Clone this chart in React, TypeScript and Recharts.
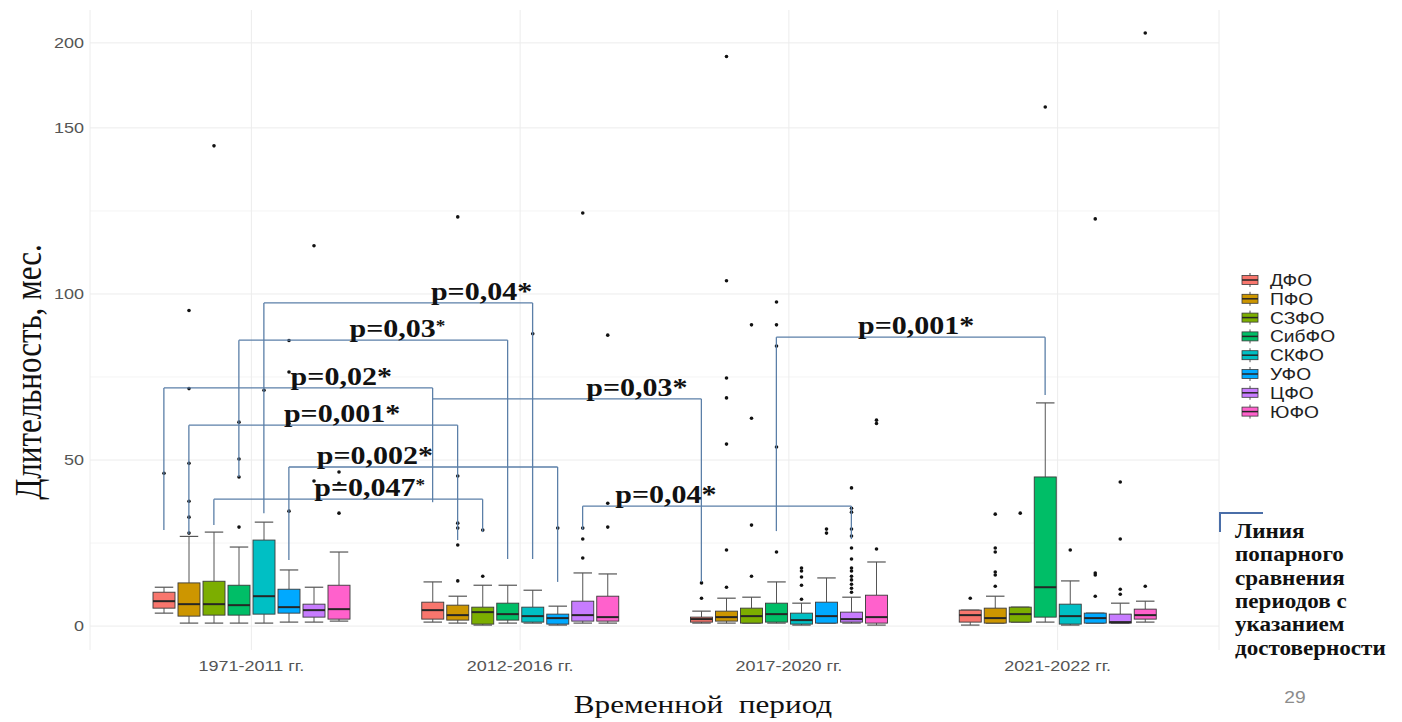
import React from 'react';
import {
  ComposedChart, Bar, XAxis, YAxis, CartesianGrid, ReferenceLine, ReferenceDot,
} from 'recharts';

// ============================================================================
// DATA
// ============================================================================

const periods = ['1971-2011 гг.', '2012-2016 гг.', '2017-2020 гг.', '2021-2022 гг.'];
const districts = ['ДФО', 'ПФО', 'СЗФО', 'СибФО', 'СКФО', 'УФО', 'ЦФО', 'ЮФО'];
const colors = ['#F8766D', '#CD9600', '#7CAE00', '#00BE67', '#00BFC4', '#00A9FF', '#C77CFF', '#FF61CC'];

// one row per period, one value per district (months)
const lowWhisker = [
  [3.9, 0.9, 0.9, 0.9, 0.9, 1.2, 1.2, 1.5],
  [1.2, 0.9, 0.3, 0.9, 0.9, 0.3, 0.9, 0.9],
  [0.9, 0.9, 0.9, 0.9, 0.3, 0.9, 0.9, 0.3],
  [0.3, 0.9, 1.2, 1.2, 0.3, 0.9, 0.9, 1.2],
];
const q1 = [
  [5.4, 3.0, 3.3, 3.3, 3.6, 3.9, 2.7, 2.1],
  [2.1, 1.8, 0.6, 1.8, 1.2, 0.6, 1.5, 1.5],
  [1.2, 1.5, 0.9, 1.2, 0.6, 0.9, 1.2, 0.9],
  [1.2, 0.9, 1.2, 2.7, 0.6, 0.9, 0.9, 2.1],
];
const median = [
  [7.5, 6.6, 6.6, 6.3, 9.0, 5.7, 4.8, 5.1],
  [4.8, 3.3, 4.2, 3.6, 3.0, 2.4, 3.3, 2.7],
  [2.1, 2.7, 3.0, 3.6, 1.8, 3.0, 2.1, 2.7],
  [3.3, 2.4, 3.6, 11.7, 3.0, 2.4, 1.2, 3.3],
];
const q3 = [
  [10.2, 13.0, 13.5, 12.3, 25.9, 11.1, 6.6, 12.3],
  [7.2, 6.3, 5.7, 6.9, 5.7, 3.6, 7.5, 9.0],
  [2.7, 4.5, 5.4, 6.9, 3.9, 7.2, 4.2, 9.3],
  [4.8, 5.4, 5.7, 44.9, 6.6, 3.9, 3.6, 5.1],
];
const highWhisker = [
  [11.7, 27.0, 28.3, 23.8, 31.3, 16.9, 11.7, 22.3],
  [13.3, 9.0, 12.3, 12.3, 10.8, 6.0, 16.0, 15.7],
  [4.5, 8.4, 8.7, 13.3, 6.9, 14.5, 8.7, 19.3],
  [4.8, 9.0, 5.7, 67.2, 13.6, 3.9, 6.9, 7.5],
];
const outliers = [
  [
    [46], [95, 71.5, 49, 37.6, 32.8, 28], [144.6], [61.4, 50.3, 44.9, 29.8],
    [71], [86, 76.5, 61, 34.6], [114.5, 43.7], [46.4, 43, 34],
  ],
  [
    [], [123.2, 45.2, 31, 29.5, 24.4, 13.6], [28.9, 15], [],
    [88], [29.5], [124.4, 29.5, 26.2, 20.5], [87.6, 37, 29.8],
  ],
  [
    [13, 8.4], [192, 104, 74.7, 68.7, 54.8, 22.9, 11.7], [90.7, 62.6, 30.4, 15],
    [97.6, 90.7, 84.3, 53.9, 22.3], [17.5, 16.6, 14.8, 12.3, 8.1], [29.2, 28],
    [41.6, 35.5, 34.3, 29.2, 27.1, 23.5, 20.2, 17.5, 16.6, 15, 13.9, 12.6, 11.4, 10.2],
    [62, 61, 23.2],
  ],
  [
    [8.4], [33.7, 23.5, 22.3, 16.3, 15.4, 12], [34], [162.3],
    [22.9], [122.6, 16, 15.4, 9.0], [43.4, 26.2, 11.1, 9.6], [205.8, 12],
  ],
];

// pairwise comparison brackets: same district, two periods
const brackets = [
  { p: 'p=0,04', smallStar: false, district: 4, from: 0, to: 1, top: 97.3, leftEnd: 34, rightEnd: 20.2, at: 0.81 },
  { p: 'p=0,03', smallStar: true, district: 3, from: 0, to: 1, top: 86.1, leftEnd: 44.9, rightEnd: 20.2, at: 0.59 },
  { p: 'p=0,02', smallStar: false, district: 0, from: 0, to: 1, top: 71.7, leftEnd: 28.9, rightEnd: 37.3, at: 0.66 },
  { p: 'p=0,03', smallStar: false, district: 0, from: 1, to: 2, top: 68.4, leftEnd: null, rightEnd: 13.3, at: 0.76 },
  { p: 'p=0,001', smallStar: false, district: 1, from: 0, to: 1, top: 60.5, leftEnd: 27.7, rightEnd: 25.9, at: 0.57 },
  { p: 'p=0,002', smallStar: false, district: 5, from: 0, to: 1, top: 47.9, leftEnd: 19.9, rightEnd: 13.3, at: 0.32 },
  { p: 'p=0,047', smallStar: true, district: 2, from: 0, to: 1, top: 38.2, leftEnd: 30.4, rightEnd: 28.3, at: 0.58 },
  { p: 'p=0,04', smallStar: false, district: 6, from: 1, to: 2, top: 36.1, leftEnd: 29, rightEnd: 26.2, at: 0.31 },
  { p: 'p=0,001', smallStar: false, district: 3, from: 2, to: 3, top: 87.0, leftEnd: 28.6, rightEnd: 69.6, at: 0.52 },
];

const yTicks = [0, 50, 100, 150, 200];
const yMinorTicks = [25, 75, 125];

// ============================================================================
// LAYOUT
// ============================================================================

const W = 1402;
const H = 722;
const MARGIN = { top: 10, right: 183, bottom: 0, left: 0 };
const Y_AXIS_W = 90;
const X_AXIS_H = 72;
const X_PAD = 27;
const BOX_W = 22;
const BOX_GAP = 3;
const BAND = (W - MARGIN.right - MARGIN.left - Y_AXIS_W - 2 * X_PAD) / periods.length;
const X_EXPAND = X_PAD / BAND + 0.5;

// the slide picture is stretched sideways, text included
const SX = 1.2;

const SANS = '"Liberation Sans", Arial, sans-serif';
const SERIF = '"Liberation Serif", "Times New Roman", serif';
const BRACKET = '#5b7fa8';

// the original axis squeezes everything above 150 months
const BREAK = 150;
const SQUEEZE = 0.512;
const tf = (v: number) => (v <= BREAK ? v : BREAK + (v - BREAK) * SQUEEZE);
const untf = (t: number) => (t <= BREAK ? t : BREAK + (t - BREAK) / SQUEEZE);

// dodge offset of a district's box inside its period band (in period units)
const dodge = (di: number) => {
  const group = districts.length * BOX_W + (districts.length - 1) * BOX_GAP;
  return (-group / 2 + BOX_W / 2 + di * (BOX_W + BOX_GAP)) / BAND;
};

const rows = periods.map((name, pi) => {
  const row: Record<string, any> = { name, idx: pi };
  districts.forEach((_, di) => {
    row[`w${di}`] = [tf(lowWhisker[pi][di]), tf(highWhisker[pi][di])];
  });
  return row;
});

// ============================================================================
// SHAPES
// ============================================================================

const BoxShape = (props: any) => {
  const { x, y, width, height, payload, di } = props;
  const pi = periods.indexOf(payload.name);
  const lo = tf(lowWhisker[pi][di]);
  const hi = tf(highWhisker[pi][di]);
  const top = Math.min(y, y + height);
  const k = Math.abs(height) / (hi - lo);
  const py = (v: number) => top + (hi - tf(v)) * k;
  const cx = x + width / 2;
  const cap = width * 0.42;
  const yq1 = py(q1[pi][di]);
  const yq3 = py(q3[pi][di]);
  const yHi = py(highWhisker[pi][di]);
  const yLo = py(lowWhisker[pi][di]);
  return (
    <g>
      <line x1={cx} x2={cx} y1={yHi} y2={yq3} stroke="#555" strokeWidth={1} />
      <line x1={cx} x2={cx} y1={yq1} y2={yLo} stroke="#555" strokeWidth={1} />
      <line x1={cx - cap} x2={cx + cap} y1={yHi} y2={yHi} stroke="#555" strokeWidth={1.2} />
      <line x1={cx - cap} x2={cx + cap} y1={yLo} y2={yLo} stroke="#555" strokeWidth={1.2} />
      <rect x={x} y={yq3} width={width} height={Math.max(yq1 - yq3, 0.5)} fill={colors[di]} stroke="#3a3a3a" strokeWidth={0.9} />
      <line x1={x} x2={x + width} y1={py(median[pi][di])} y2={py(median[pi][di])} stroke="#262626" strokeWidth={2} />
      {outliers[pi][di].map((v, i) => (
        <circle key={i} cx={cx} cy={py(v)} r={1.8} fill="#111" />
      ))}
    </g>
  );
};

// text stretched sideways around its anchor point
const Wide = ({ x, y, children, ...rest }: any) => (
  <g transform={`translate(${x},${y}) scale(${SX},1)`}>
    <text x={0} y={0} {...rest}>{children}</text>
  </g>
);

const XTick = (props: any) => (
  <Wide x={props.x} y={props.y} dy="0.71em" textAnchor="middle" fontFamily={SANS} fontSize={15} fill="#555">
    {props.payload.value}
  </Wide>
);

const YTick = (props: any) => (
  <Wide x={props.x} y={props.y} dy="0.355em" textAnchor="end" fontFamily={SANS} fontSize={15} fill="#555">
    {Math.round(untf(props.payload.value))}
  </Wide>
);

const PLabel = (props: any) => {
  const { cx, cy, text, smallStar } = props;
  return (
    <Wide x={cx} y={cy} textAnchor="middle" fontFamily={SERIF} fontWeight="bold" fontSize={25} fill="#111">
      {text}
      <tspan fontSize={smallStar ? 16 : 25} dy={smallStar ? -6 : 0}>*</tspan>
    </Wide>
  );
};

// ============================================================================
// LEGEND + ANNOTATIONS
// ============================================================================

const Legend = () => (
  <g>
    {districts.map((d, i) => {
      const y = 280 + i * 18.8;
      return (
        <g key={d}>
          <line x1={1250} x2={1250} y1={y - 7} y2={y + 7} stroke="#555" strokeWidth={1} />
          <rect x={1242} y={y - 4.5} width={16} height={9} fill={colors[i]} stroke="#3a3a3a" strokeWidth={0.8} />
          <line x1={1242} x2={1258} y1={y} y2={y} stroke="#262626" strokeWidth={1.5} />
          <Wide x={1270} y={y + 6} fontFamily={SANS} fontSize={16} fill="#222">{d}</Wide>
        </g>
      );
    })}
  </g>
);

const noteLines = ['Линия', 'попарного', 'сравнения', 'периодов с', 'указанием', 'достоверности'];

const Overlay = () => (
  <svg width={W} height={H} style={{ position: 'absolute', left: 0, top: 0, pointerEvents: 'none' }}>
    <g transform={`translate(41,372) scale(${SX},1) rotate(-90)`}>
      <text x={0} y={0} textAnchor="middle" fontFamily={SERIF} fontSize={31} fill="#111">
        Длительность, мес.
      </text>
    </g>
    <Wide x={703} y={713} textAnchor="middle" fontFamily={SERIF} fontSize={26} fill="#111" style={{ whiteSpace: 'pre' }}>
      {'Временной  период'}
    </Wide>
    <Legend />
    <path d="M1220,532 V513 H1263" fill="none" stroke="#4a6ea8" strokeWidth={2} />
    {noteLines.map((t, i) => (
      <g key={t} transform={`translate(1235,${538 + i * 23.3}) scale(1.1,1)`}>
        <text x={0} y={0} fontFamily={SERIF} fontWeight="bold" fontSize={21} fill="#111">{t}</text>
      </g>
    ))}
    <Wide x={1295} y={703} textAnchor="middle" fontFamily={SANS} fontSize={16} fill="#8c8c8c">29</Wide>
  </svg>
);

// ============================================================================
// CHART
// ============================================================================

export default function App() {
  return (
    <div style={{ position: 'absolute', left: 0, top: 0, width: W, height: H, background: '#fff' }}>
      <ComposedChart width={W} height={H} data={rows} margin={MARGIN} barSize={BOX_W} barGap={BOX_GAP}>
        <CartesianGrid
          xAxisId="cat"
          stroke="#f4f4f4"
          strokeWidth={1}
          vertical={false}
          horizontalValues={yMinorTicks.map(tf)}
        />
        <CartesianGrid
          xAxisId="cat"
          stroke="#ececec"
          strokeWidth={1}
          horizontalValues={yTicks.map(tf)}
        />
        <XAxis
          xAxisId="cat"
          dataKey="name"
          height={X_AXIS_H}
          padding={{ left: X_PAD, right: X_PAD }}
          axisLine={false}
          tickLine={false}
          tickSize={0}
          tickMargin={10}
          tick={<XTick />}
        />
        <XAxis
          xAxisId="num"
          dataKey="idx"
          type="number"
          domain={[-X_EXPAND, periods.length - 1 + X_EXPAND]}
          allowDataOverflow
          hide
        />
        <YAxis
          type="number"
          width={Y_AXIS_W}
          domain={[-7.2, 185.5]}
          allowDataOverflow
          ticks={yTicks.map(tf)}
          axisLine={false}
          tickLine={false}
          tickSize={0}
          tickMargin={6}
          tick={<YTick />}
        />
        {districts.map((d, di) => (
          <Bar
            key={d}
            xAxisId="cat"
            dataKey={`w${di}`}
            name={d}
            fill={colors[di]}
            isAnimationActive={false}
            shape={(p: any) => <BoxShape {...p} di={di} />}
          />
        ))}
        {brackets.map((b, i) => {
          const xl = b.from + dodge(b.district);
          const xr = b.to + dodge(b.district);
          return (
            <React.Fragment key={i}>
              {b.leftEnd !== null && (
                <ReferenceLine
                  xAxisId="num"
                  segment={[{ x: xl, y: tf(b.leftEnd) }, { x: xl, y: tf(b.top) }]}
                  stroke={BRACKET}
                  strokeWidth={1.3}
                />
              )}
              <ReferenceLine
                xAxisId="num"
                segment={[{ x: xl, y: tf(b.top) }, { x: xr, y: tf(b.top) }]}
                stroke={BRACKET}
                strokeWidth={1.3}
              />
              <ReferenceLine
                xAxisId="num"
                segment={[{ x: xr, y: tf(b.top) }, { x: xr, y: tf(b.rightEnd) }]}
                stroke={BRACKET}
                strokeWidth={1.3}
              />
              <ReferenceDot
                xAxisId="num"
                x={xl + (xr - xl) * b.at}
                y={tf(b.top) + 1}
                r={0}
                shape={(p: any) => <PLabel {...p} text={b.p} smallStar={b.smallStar} />}
              />
            </React.Fragment>
          );
        })}
      </ComposedChart>
      <Overlay />
    </div>
  );
}
